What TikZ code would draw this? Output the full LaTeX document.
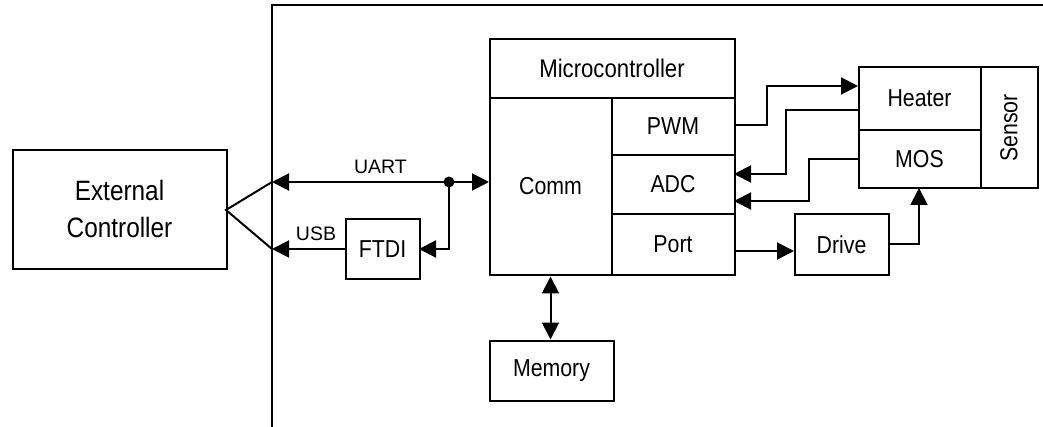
\documentclass[tikz,border=0pt]{standalone}
\usepackage{fontspec}
\setmainfont[FakeStretch=0.87]{Liberation Sans}
\newfontfamily\lblfont{Liberation Sans}
\usetikzlibrary{arrows.meta,calc}
\tikzset{
 x=1pt,y=-1pt,
 cell/.style={draw=black,line width=2pt,rectangle,inner sep=0pt,font=\fontsize{24.5}{37}\selectfont,align=center,anchor=north west},
 tiny/.style={inner sep=0pt,font=\lblfont\fontsize{19.5}{22}\selectfont},
 big/.style={font=\fontsize{28}{37}\selectfont},
 wide/.style={font=\fontsize{25.5}{37}\selectfont},
 wire/.style={draw=black,line width=2pt},
 conn/.style={wire,-{Triangle[length=17pt,width=17pt]}},
 biconn/.style={wire,{Triangle[length=17pt,width=17pt]}-{Triangle[length=17pt,width=17pt]}},
}
\newcommand{\cellbox}[7][]{\node[cell,minimum width=#5,minimum height=#6,#1] (#2) at (#3-0.5,#4-0.5) {\raisebox{1.5pt}{#7}};}
\begin{document}
\begin{tikzpicture}
\useasboundingbox (0,0) rectangle (1043,427);
\coordinate (wallTop) at (272,5);
\coordinate (wallBot) at (272,427);
\coordinate (wallEnd) at (1043,5);
\draw[wire] (wallBot) -- (wallTop) -- (wallEnd);
\node[cell,big,minimum width=214pt,minimum height=119pt] (ext) at (11.5,149) {\raisebox{1pt}{External}\\\raisebox{1pt}{Controller}};
\cellbox[wide]{mcu}{489}{39}{245pt}{59pt}{Microcontroller}
\cellbox{comm}{489}{98}{122pt}{177pt}{Comm}
\cellbox{pwm}{611}{98}{123pt}{57pt}{PWM}
\cellbox{adc}{611}{155}{123pt}{59pt}{ADC}
\cellbox{port}{611}{214}{123pt}{61pt}{Port}
\cellbox{mem}{489}{340}{124pt}{60pt}{Memory}
\cellbox{ftdi}{345}{219}{74pt}{60pt}{FTDI}
\cellbox{heater}{858}{67}{122pt}{63pt}{Heater}
\cellbox{mos}{858}{130}{122pt}{58pt}{MOS}
\node[cell,minimum width=57pt,minimum height=121pt] (sensor) at (979.5,66.5) {\rotatebox{90}{Sensor}};
\cellbox{drive}{794}{214}{94pt}{61pt}{Drive}
% fork
\coordinate (uartL) at (272,182);
\coordinate (usbL) at (272,249);
\coordinate (fork) at (226,210);
\draw[wire] (uartL) -- (fork) -- (usbL);
% UART
\coordinate (uartR) at (489,182);
\coordinate (jn) at (449,182);
\draw[biconn] (uartL) -- (uartR);
\fill (jn) circle (5.5pt);
\coordinate (ftdiE) at (419,249);
\coordinate (ftdiW) at (345,249);
\draw[conn] (jn) |- (ftdiE);
\draw[conn] (ftdiW) -- (usbL);
\node[tiny] (uartlbl) at (380.5,167) {UART};
\node[tiny] (usblbl) at (316,234) {USB};
% memory
\draw[biconn] ($(comm.south west)+(62,0)$) -- ($(mem.north west)+(62,0)$);
% signals
\coordinate (pwmOut) at (734,125);
\coordinate (htIn) at (858,86);
\draw[conn] (pwmOut) -- (767,125) -- (767,86) -- (htIn);
\coordinate (htOut) at (858,110);
\coordinate (adcA) at (734,174);
\draw[conn] (htOut) -- (786,110) -- (786,174) -- (adcA);
\coordinate (mosOut) at (858,159);
\coordinate (adcB) at (734,201);
\draw[conn] (mosOut) -- (809,159) -- (809,201) -- (adcB);
\coordinate (portOut) at (734,251);
\coordinate (drvIn) at (794,251);
\draw[conn] (portOut) -- (drvIn);
\coordinate (drvOut) at (888,244);
\coordinate (mosIn) at (919,188);
\draw[conn] (drvOut) -| (mosIn);
\end{tikzpicture}
\end{document}
